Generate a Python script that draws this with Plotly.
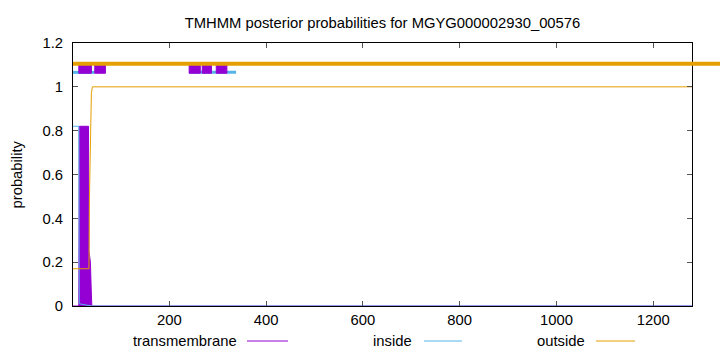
import plotly.graph_objects as go

# ---- data ----
seq_len = 1280
title = "TMHMM posterior probabilities for MGYG000002930_00576"

tm_res = [1, 13, 14, 33, 34, 37, 39, 40, 1280]
tm_prob = [0.0, 0.0, 0.82, 0.82, 0.25, 0.2, 0.05, 0.0, 0.0]

in_res = [1, 13, 14, 40, 1280]
in_prob = [0.82, 0.82, 0.01, 0.0, 0.0]

out_res = [1, 34, 35, 37, 39, 41, 1280]
out_prob = [0.17, 0.17, 0.5, 0.85, 0.97, 1.0, 1.0]

# predicted topology drawn above the curves
tm_segments = [(13, 39), (46, 68), (241, 264), (268, 287), (297, 319)]
inside_segments = [(1, 46), (241, 338)]
outside_segments = [(1, 1280)]

x_ticks = [200, 400, 600, 800, 1000, 1200]
y_ticks = [0, 0.2, 0.4, 0.6, 0.8, 1.0, 1.2]
y_tick_text = ["0", "0.2", "0.4", "0.6", "0.8", "1", "1.2"]

legend_names = ["transmembrane", "inside", "outside"]

# ---- styling ----
C_TM = "#9400D3"
C_IN = "#56B4E9"
C_OUT = "#E69F00"
FONT = "Liberation Sans"
FS = 14.8

Y_OUT = 1.105
Y_IN = 1.066
BOX_LO, BOX_HI = 1.062, 1.102

fig = go.Figure()

# posterior curves
fig.add_trace(go.Scatter(x=tm_res, y=tm_prob, mode="lines", fill="tozeroy",
                         line=dict(color=C_TM, width=1), fillcolor=C_TM, showlegend=False))
fig.add_trace(go.Scatter(x=in_res, y=in_prob, mode="lines",
                         line=dict(color=C_IN, width=1), showlegend=False))
fig.add_trace(go.Scatter(x=out_res, y=out_prob, mode="lines",
                         line=dict(color=C_OUT, width=1), showlegend=False))

# topology: inside line
xs, ys = [], []
for a, b in inside_segments:
    xs += [a, b, None]
    ys += [Y_IN, Y_IN, None]
fig.add_trace(go.Scatter(x=xs, y=ys, mode="lines", line=dict(color=C_IN, width=3),
                         showlegend=False))

# topology: TM boxes
xs, ys = [], []
for a, b in tm_segments:
    xs += [a, b, b, a, a, None]
    ys += [BOX_LO, BOX_LO, BOX_HI, BOX_HI, BOX_LO, None]
fig.add_trace(go.Scatter(x=xs, y=ys, mode="lines", fill="toself", fillcolor=C_TM,
                         line=dict(color=C_TM, width=1), showlegend=False))

# topology: outside line
xs, ys = [], []
for a, b in outside_segments:
    xs += [a, b, None]
    ys += [Y_OUT, Y_OUT, None]
fig.add_trace(go.Scatter(x=xs, y=ys, mode="lines", line=dict(color=C_OUT, width=4),
                         showlegend=False))
# the outside bar runs past the right border in the reference (unclipped)
fig.add_shape(type="line", xref="paper", yref="y", x0=1.0, x1=1.06, y0=Y_OUT, y1=Y_OUT,
              line=dict(color=C_OUT, width=4))

# ---- layout ----
L, R, T, B = 73, 28, 43, 46
W, H = 720, 352
pw, ph = W - L - R, H - T - B


def px_to_paper_x(px):
    return (px - L) / pw


def py_to_paper_y(py):
    return (H - B - py) / ph


fig.update_layout(
    width=W, height=H,
    margin=dict(l=L, r=R, t=T, b=B),
    paper_bgcolor="white", plot_bgcolor="white",
    font=dict(family=FONT, size=FS, color="black"),
    title=dict(text=title, x=(L + pw / 2) / W,
               xanchor="center", y=1 - 23 / H, yref="container", yanchor="middle",
               font=dict(family=FONT, size=FS, color="black")),
    showlegend=False,
)
fig.update_xaxes(range=[1, seq_len], tickvals=x_ticks, ticks="inside", ticklen=5,
                 tickcolor="#555", showline=True, linecolor="black", linewidth=1,
                 mirror="ticks", showgrid=False, zeroline=False,
                 tickfont=dict(family=FONT, size=FS))
fig.update_yaxes(range=[0, 1.2], tickvals=y_ticks, ticktext=y_tick_text, ticks="inside",
                 ticklen=5, tickcolor="#555", showline=True, linecolor="black", linewidth=1,
                 mirror="ticks", showgrid=False, zeroline=False, ticklabelstandoff=6,
                 tickfont=dict(family=FONT, size=FS))

# y-axis label
fig.add_annotation(text="probability", textangle=-90, xref="paper", yref="paper",
                   x=px_to_paper_x(16), y=0.5, xanchor="center", yanchor="middle",
                   showarrow=False, font=dict(family=FONT, size=FS))

# legend drawn gnuplot style: text then line sample
legend_colors = [C_TM, C_IN, C_OUT]
legend_text_right = [239, 413.5, 587]
legend_line_px = [(247, 288), (424, 462), (596, 635)]
ly = py_to_paper_y(341)
for name, col, tx, (l0, l1) in zip(legend_names, legend_colors, legend_text_right, legend_line_px):
    fig.add_annotation(text=name, xref="paper", yref="paper", x=px_to_paper_x(tx), y=ly,
                       xanchor="right", yanchor="middle", showarrow=False,
                       font=dict(family=FONT, size=FS))
    fig.add_shape(type="line", xref="paper", yref="paper", x0=px_to_paper_x(l0),
                  x1=px_to_paper_x(l1), y0=ly, y1=ly, line=dict(color=col, width=1))

fig.write_html("out.html")
